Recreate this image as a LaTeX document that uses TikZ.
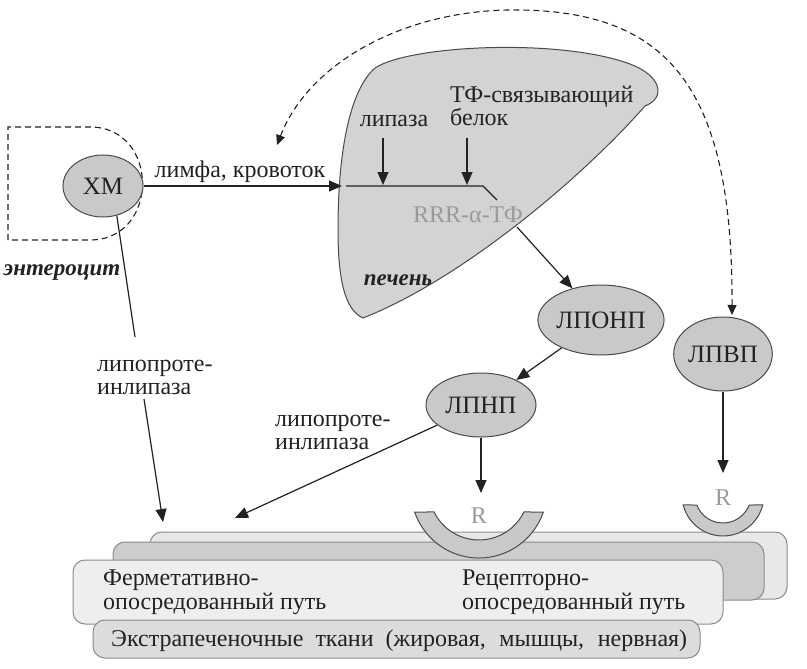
\documentclass[tikz,border=0pt]{standalone}
\usepackage{fontspec}
\setmainfont{Liberation Serif}
\usetikzlibrary{arrows.meta,calc,shapes.geometric}
\definecolor{ink}{HTML}{222222}
\definecolor{edge}{HTML}{4A4A4A}
\definecolor{nodefill}{HTML}{C9C9C9}
\definecolor{liverfill}{HTML}{D3D3D3}
\definecolor{faint}{HTML}{9A9A9A}
\definecolor{layedge}{HTML}{8C8C8C}
\definecolor{layA}{HTML}{E8E8E8}
\definecolor{layB}{HTML}{CDCDCD}
\definecolor{layC}{HTML}{EEEEEE}
\definecolor{layD}{HTML}{DCDCDC}
\begin{document}
\setlength{\lineskiplimit}{-30pt}
\begin{tikzpicture}[x=1pt,y=-1pt,
 lp/.style={ellipse,draw=edge,fill=nodefill,line width=1pt,inner sep=0pt,font=\fontsize{25}{28}\selectfont,text=ink},
 arr/.style={draw=ink,line width=1.2pt,-{Triangle[length=13pt,width=11pt]}},
 dasharr/.style={draw=ink,line width=1.1pt,dash pattern=on 6pt off 4pt,{Triangle[length=10pt,width=9pt]}-{Triangle[length=10pt,width=9pt]}},
 lbl/.style={font=\fontsize{24}{23}\selectfont,text=ink,inner sep=0pt,align=left},
 boxtxt/.style={font=\fontsize{24}{23.5}\selectfont,text=ink,inner sep=0pt,align=left},
 layer/.style={draw=layedge,line width=1pt,rounded corners=12pt},
 cup/.style={draw=edge,fill=nodefill,line width=1pt},
 rtxt/.style={font=\fontsize{24}{24}\selectfont,text=faint,inner sep=0pt,anchor=base}]
\useasboundingbox (0,0) rectangle (807,669);
\fill[white] (0,0) rectangle (807,669);

% tissue layers
\draw[layer,fill=layA] (150,532) rectangle (787,599);
\draw[layer,fill=layB] (113,542) rectangle (764,600);
\draw[layer,fill=layC] (73,560) rectangle (723,624);
\draw[layer,fill=layD] (93,620) rectangle (700,658);
\node[boxtxt,anchor=base west] (ferm) at (103,609) {Ферметативно-\\опосредованный путь};
\node[boxtxt,anchor=base west] (rec) at (462,609) {Рецепторно-\\опосредованный путь};
\node[boxtxt,anchor=base west] (extra) at (111,646) {\makebox[576pt][s]{Экстрапеченочные ткани (жировая, мышцы, нервная)}};

% receptors
\filldraw[cup] (479,490) ++(161:68) arc[start angle=161,end angle=19,radius=68]
  -- ($(479,490)+(26:50)$) arc[start angle=26,end angle=154,radius=50] -- cycle;
\filldraw[cup] (723,495) ++(166:41) arc[start angle=166,end angle=14,radius=41]
  -- ($(723,495)+(21:28)$) arc[start angle=21,end angle=159,radius=28] -- cycle;
\node[rtxt] (r1) at (479,523) {R};
\node[rtxt] (r2) at (723,505) {R};

% liver
\filldraw[draw=edge,fill=liverfill,line width=1pt] (363,318)
  .. controls (345,310) and (338,280) .. (338,230)
  .. controls (338,150) and (350,90) .. (375,68)
  .. controls (410,45) and (560,38) .. (630,64)
  .. controls (662,76) and (666,98) .. (645,106)
  .. controls (580,180) and (460,280) .. (363,318) -- cycle;

% enterocyte
\draw[ink,line width=1.1pt,dash pattern=on 6pt off 4pt] (8,240) -- (8,127) -- (90,127)
  .. controls (160,127) and (160,240) .. (90,240) -- cycle;
\node[lbl,font=\fontsize{23}{23}\bfseries\itshape\selectfont,anchor=base] (entero) at (62,275) {энтероцит};

% lipoprotein nodes
\node[lp,minimum width=80pt,minimum height=62pt] (xm) at (103,186) {ХМ};
\node[lp,minimum width=106pt,minimum height=70pt] (lponp) at (601,320) {ЛПОНП};
\node[lp,minimum width=92pt,minimum height=74pt] (lpvp) at (723,354) {ЛПВП};
\node[lp,minimum width=110pt,minimum height=64pt] (lpnp) at (481,405) {ЛПНП};

% labels
\node[lbl,anchor=base] (limfa) at (240,177) {лимфа, кровоток};
\node[lbl,anchor=base] (lipaza) at (394,127) {липаза};
\node[lbl,anchor=base west] (tfsv) at (450,125) {ТФ-связывающий\\белок};
\node[lbl,anchor=base,text=faint] (rrr) at (468,222) {RRR-α-ТФ};
\node[lbl,font=\fontsize{23}{23}\bfseries\itshape\selectfont,anchor=base] (pechen) at (398,285) {печень};
\node[lbl,anchor=base west] (lpl1) at (97,394) {липопроте-\\инлипаза};
\node[lbl,anchor=base west] (lpl2) at (275,449) {липопроте-\\инлипаза};

% coordinates
\coordinate (liverL) at (342,186);
\coordinate (lineA) at (346,186);
\coordinate (lineB) at (483,186);
\coordinate (lineC) at (497,200);
\coordinate (a1s) at (383,138);
\coordinate (a1e) at (383,185);
\coordinate (a2s) at (467,138);
\coordinate (a2e) at (467,185);
\coordinate (rrrOut) at (517,227);
\coordinate (b1) at (135,337);
\coordinate (b2) at (144,399);
\coordinate (t1) at (163,522);
\coordinate (t2) at (235,518);
\coordinate (r1tip) at (481,493);
\coordinate (r2tip) at (723,473);
\coordinate (dashL) at (277,145);
\coordinate (dashR) at (732,315);

% connectors
\draw[arr] (xm.east |- liverL) -- (liverL);
\draw[ink,line width=1.2pt] (lineA) -- (lineB) -- (lineC);
\draw[arr] (a1s) -- (a1e);
\draw[arr] (a2s) -- (a2e);
\draw[arr] (rrrOut) -- (lponp);
\draw[arr] (lponp) -- (lpnp);
\draw[arr] (lpnp) -- (r1tip);
\draw[arr] (lpvp) -- (r2tip);
\draw[arr] (lpnp) -- (t2);
\draw[ink,line width=1.2pt] (xm.-65) -- (b1);
\draw[arr] (b2) -- (t1);
\draw[dasharr] (dashL) .. controls (310,60) and (410,8) .. (520,10)
  .. controls (670,12) and (733,90) .. (dashR);
\end{tikzpicture}
\end{document}
